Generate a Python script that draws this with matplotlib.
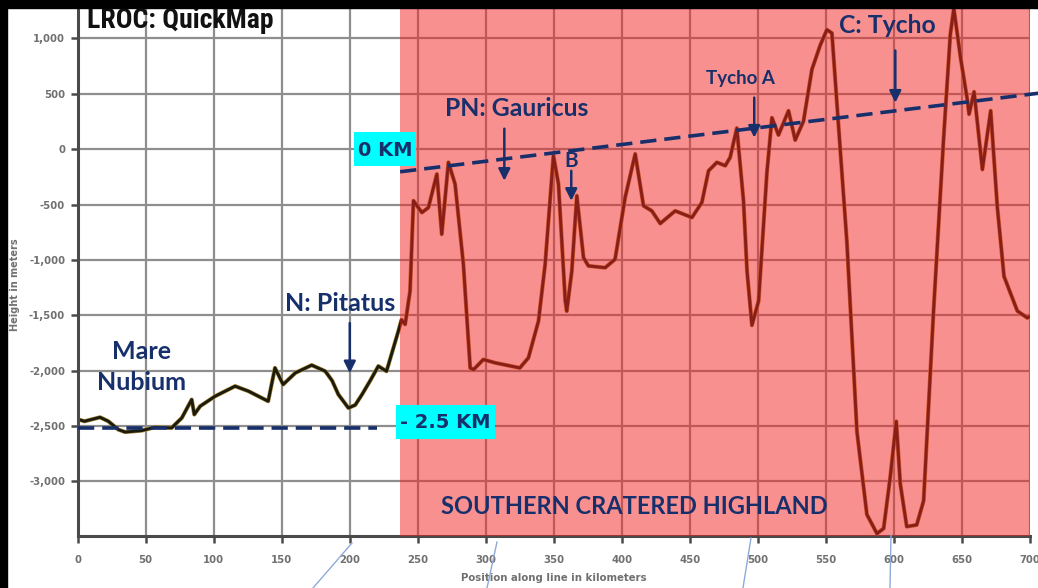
import matplotlib
matplotlib.use("Agg")
import matplotlib.pyplot as plt
from matplotlib.patches import Rectangle
from matplotlib.lines import Line2D
from matplotlib.ticker import FuncFormatter

# ---- data ----
dist_km = [0, 5, 16.4, 22.5, 29.9, 34.8, 47, 56.8, 69, 76.5, 83.8, 85.7, 90, 101, 115.7,
           125.5, 140, 145, 151, 160, 172, 182, 187, 191.6, 199, 204, 209, 215, 221, 227,
           235.7, 238,
           240.7, 244.3, 246.8, 253, 257.8, 264, 267.6, 272.5, 277.4, 283.5, 288.5, 291,
           298.2, 306.8, 325, 331.3, 338.7, 343.6, 349.7, 353.4, 358.4, 359.5, 363.2,
           366.9, 371.8, 375.4, 387.7, 395, 402.4, 409.8, 415.9, 422, 428.2, 439.2, 451.5,
           458.8, 463.7, 469.8, 476, 479.6, 484.5, 489.4, 492, 495.6, 500.5, 506.6, 510.3,
           515.1, 522.5, 527.4, 533.5, 539.7, 545.8, 550.7, 554.4, 558.1, 565.4, 572.8,
           580.1, 587.5, 592.4, 597.3, 601.7, 604.6, 609.4, 616.7, 621.8, 629.1, 636.5,
           641.4, 644, 649.1, 654, 655.2, 658.9, 665, 671.1, 676, 680.9, 690.7, 698, 700]
height_m = [-2439, -2457, -2421, -2457, -2532, -2554, -2541, -2511, -2517, -2427, -2261,
            -2396, -2321, -2231, -2140, -2185, -2276, -1975, -2125, -2020, -1950, -2005,
            -2090, -2215, -2337, -2310, -2215, -2090, -1959, -2005, -1643, -1540,
            -1582, -1281, -466, -572,
            -527, -225, -768, -119, -315, -1039, -1975, -1990, -1899, -1929, -1975, -1884,
            -1552, -1039, -59, -315, -1371, -1462, -1100, -421, -979, -1054, -1070, -994,
            -436, -43, -511, -557, -671, -557, -617, -481, -195, -119, -149, -74, 190,
            -466, -1100, -1590, -1370, -214, 284, 128, 347, 82, 253, 720, 939, 1079, 1048,
            409, -837, -2551, -3299, -3471, -3425, -2957, -2458, -3018, -3408, -3393,
            -3175, -1461, 98, 1033, 1270, 814, 440, 316, 518, -183, 347, -526, -1149,
            -1461, -1523, -1510]

x_ticks = list(range(0, 701, 50))
y_ticks = list(range(-3000, 1001, 500))
highland_start, highland_end = 237, 700
zero_line_x = [237, 706]
zero_line_y = [-204, 505]
mare_line_x = [0, 220]
mare_line_y = [-2520, -2520]

labels = ["PN: Gauricus", "B", "Tycho A", "C: Tycho", "N: Pitatus", "Mare\nNubium",
          "SOUTHERN CRATERED HIGHLAND"]

W, H = 1038, 588
fig = plt.figure(figsize=(W / 100, H / 100), dpi=100, facecolor="white")

def fx(px):
    return px / W

def fy(py):
    return 1 - py / H

ax = fig.add_axes([fx(77.7), fy(536), fx(1030) - fx(77.7), fy(8) - fy(536)])
ax.set_xlim(0, 700)
ax.set_ylim(-3493, 1275)
ax.set_facecolor("white")

navy = "#17306c"
ax.set_xticks(x_ticks)
ax.set_yticks(y_ticks)
ax.yaxis.set_major_formatter(FuncFormatter(lambda v, p: f"{int(v):,}"))
ax.grid(True, color="#8e8e8e", lw=1.6, zorder=1)
ax.set_axisbelow(True)
for s in ["top", "right"]:
    ax.spines[s].set_visible(False)
for s in ["left", "bottom"]:
    ax.spines[s].set_color("#4a4a4a")
    ax.spines[s].set_linewidth(2.2)
ax.tick_params(direction="out", length=5, width=1.8, color="#4a4a4a",
               labelsize=7.3, labelcolor="#707070", pad=4)
ax.tick_params(axis="x", pad=9)
for lab in ax.get_xticklabels() + ax.get_yticklabels():
    lab.set_fontweight("bold")

# profile
ax.plot(dist_km, height_m, color="#b08a3c", lw=3.0, zorder=2, solid_joinstyle="round")
ax.plot(dist_km, height_m, color="#1a1c0e", lw=2.1, zorder=2.1, solid_joinstyle="round")

# highland overlay
ax.axvspan(highland_start, highland_end, color="#f52323", alpha=0.5, lw=0, zorder=3)

# dashed reference lines
ax.plot(zero_line_x, zero_line_y, color=navy, lw=2.6, ls=(0, (4.5, 2.2)), zorder=5,
        clip_on=False)
ax.plot(mare_line_x, mare_line_y, color=navy, lw=2.6, ls=(0, (4.5, 2.2)), zorder=5)

# level boxes
ax.add_patch(Rectangle((203.2, -152), 45.6, 307, fc="#00ffff", ec="none", zorder=6))
ax.text(226, -10, "0 KM", fontsize=14, fontweight="bold", color=navy, ha="center",
        va="center", family="DejaVu Sans", zorder=7)
ax.add_patch(Rectangle((234.0, -2617), 72.8, 307, fc="#00ffff", ec="none", zorder=6))
ax.text(270.4, -2470, "- 2.5 KM", fontsize=14, fontweight="bold", color=navy,
        ha="center", va="center", family="DejaVu Sans", zorder=7)

lab_font = ["Lato", "DejaVu Sans"]
ax.text(323, 366, labels[0], fontsize=17.8, fontweight="bold", color=navy, ha="center",
        va="center", family=lab_font, zorder=7)
ax.text(363, -104, labels[1], fontsize=15, fontweight="bold", color=navy, ha="center",
        va="center", family=lab_font, zorder=7)
ax.text(487, 638, labels[2], fontsize=13.5, fontweight="bold", color=navy, ha="center",
        va="center", family=lab_font, zorder=7)
ax.text(595, 1118, labels[3], fontsize=17.8, fontweight="bold", color=navy, ha="center",
        va="center", family=lab_font, zorder=7)
ax.text(193, -1389, labels[4], fontsize=18, fontweight="bold", color=navy, ha="center",
        va="center", family=lab_font, zorder=7)
ax.text(47, -1965, labels[5], fontsize=18, fontweight="bold", color=navy, ha="center",
        va="center", family=lab_font, zorder=7, linespacing=1.45)
ax.text(409, -3226, labels[6], fontsize=17, fontweight="bold", color=navy, ha="center",
        va="center", family=lab_font, zorder=7)

arrows = [((313.6, 185), (313.6, -285)), ((362.8, -195), (362.8, -466)),
          ((497.3, 466), (497.3, 104)), ((601, 891), (601, 420)),
          ((200, -1570), (200, -2023))]
for tail, tip in arrows:
    ax.annotate("", xy=tip, xytext=tail, zorder=7,
                arrowprops=dict(arrowstyle="-|>,head_width=0.35,head_length=0.7",
                                lw=1.8, color=navy, shrinkA=0, shrinkB=0))

# axis labels
fig.text(fx(554), fy(578), "Position along line in kilometers", fontsize=7.3,
         fontweight="bold", color="#707070", ha="center", va="center")
fig.text(fx(15), fy(285), "Height in meters", fontsize=7.0, fontweight="bold",
         color="#707070", ha="center", va="center", rotation=90)

# title text
fig.text(fx(87), fy(28), "LROC: QuickMap", fontsize=20, fontweight="bold",
         fontstretch="condensed", color="#111111", ha="left", va="baseline",
         family=["DejaVu Sans Condensed", "Liberation Sans Narrow", "Roboto Condensed",
                 "Roboto"])

# faint connector lines below the axis
for (x0, y0), (x1, y1) in [((352, 543), (313, 588)), ((497, 542), (487, 588)),
                           ((751, 538), (743, 588)), ((891, 535), (890, 588))]:
    fig.add_artist(Line2D([fx(x0), fx(x1)], [fy(y0), fy(y1)], color="#8eaadb", lw=1.0,
                          zorder=8))

# black frame edges
fig.add_artist(Rectangle((0, fy(8)), 1, 1 - fy(8), transform=fig.transFigure,
                         color="black", zorder=20))
fig.add_artist(Rectangle((0, 0), fx(7), 1, transform=fig.transFigure, color="black",
                         zorder=20))

fig.savefig("out.png", dpi=100, facecolor="white")
